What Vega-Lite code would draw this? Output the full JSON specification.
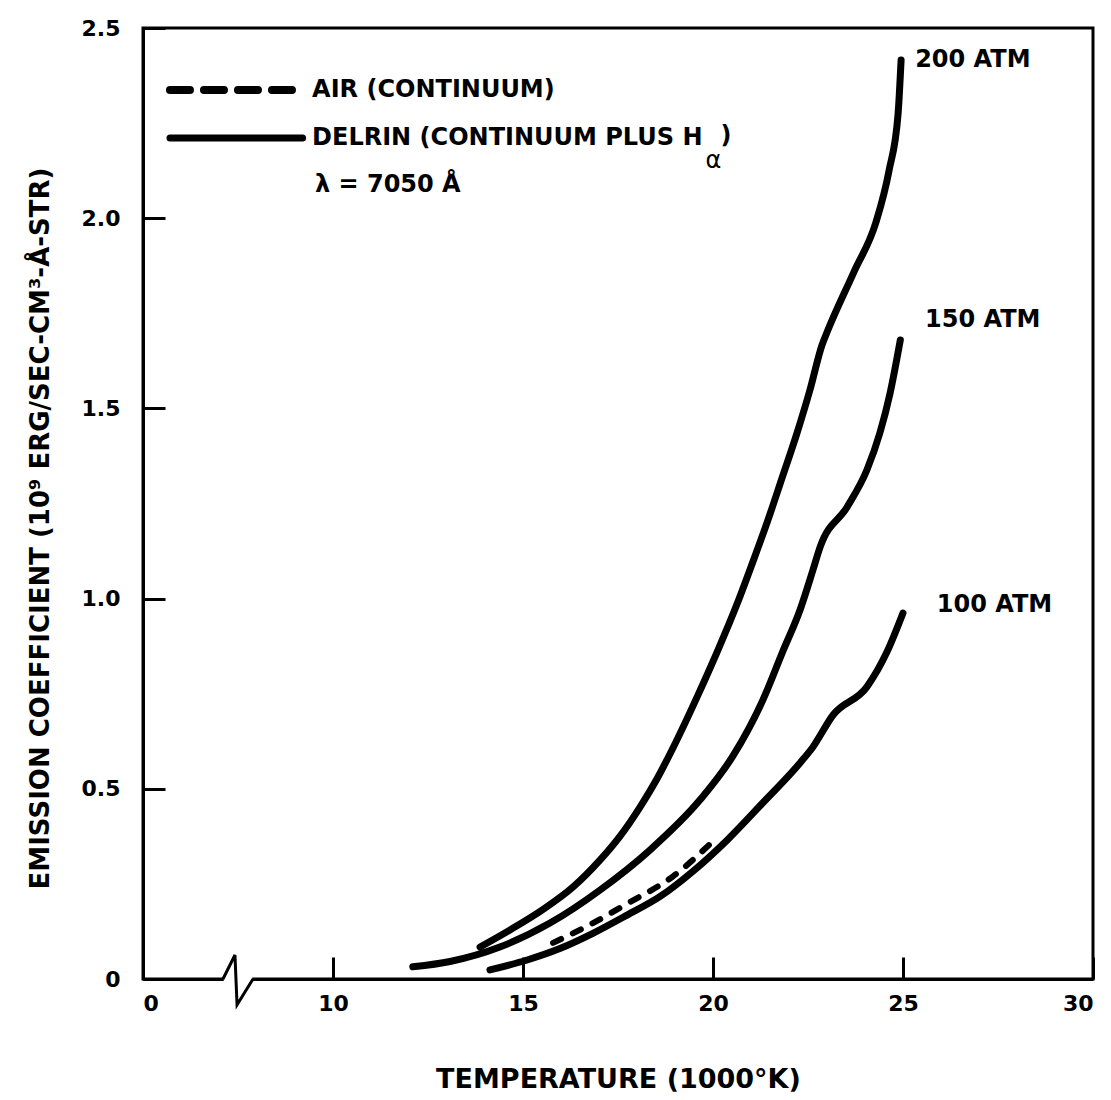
{
  "$schema": "https://vega.github.io/schema/vega-lite/v6.json",
  "width": 950,
  "height": 951,
  "autosize": {"type": "none"},
  "padding": {"left": 143, "top": 28, "right": 18, "bottom": 121},
  "background": "white",
  "config": {
    "view": {"stroke": "black", "strokeWidth": 3},
    "axis": {
      "grid": false,
      "domainColor": "black",
      "domainWidth": 3,
      "tickColor": "black",
      "tickWidth": 3,
      "tickSize": -22,
      "labelFont": "DejaVu Sans",
      "labelFontWeight": "bold",
      "labelFontSize": 22,
      "labelColor": "black",
      "titleFont": "DejaVu Sans",
      "titleFontWeight": "bold",
      "titleFontSize": 27,
      "titleColor": "black"
    }
  },
  "datasets": {
    "curves": [
      {"T": 13.87, "E": 0.084, "series": "200 ATM", "kind": "delrin"},
      {"T": 14.66, "E": 0.129, "series": "200 ATM", "kind": "delrin"},
      {"T": 15.53, "E": 0.183, "series": "200 ATM", "kind": "delrin"},
      {"T": 16.32, "E": 0.242, "series": "200 ATM", "kind": "delrin"},
      {"T": 17.03, "E": 0.313, "series": "200 ATM", "kind": "delrin"},
      {"T": 17.55, "E": 0.375, "series": "200 ATM", "kind": "delrin"},
      {"T": 18.08, "E": 0.452, "series": "200 ATM", "kind": "delrin"},
      {"T": 18.53, "E": 0.527, "series": "200 ATM", "kind": "delrin"},
      {"T": 18.95, "E": 0.608, "series": "200 ATM", "kind": "delrin"},
      {"T": 19.58, "E": 0.741, "series": "200 ATM", "kind": "delrin"},
      {"T": 20.11, "E": 0.86, "series": "200 ATM", "kind": "delrin"},
      {"T": 20.63, "E": 0.985, "series": "200 ATM", "kind": "delrin"},
      {"T": 21.05, "E": 1.097, "series": "200 ATM", "kind": "delrin"},
      {"T": 21.42, "E": 1.199, "series": "200 ATM", "kind": "delrin"},
      {"T": 21.82, "E": 1.318, "series": "200 ATM", "kind": "delrin"},
      {"T": 22.21, "E": 1.435, "series": "200 ATM", "kind": "delrin"},
      {"T": 22.55, "E": 1.548, "series": "200 ATM", "kind": "delrin"},
      {"T": 22.87, "E": 1.667, "series": "200 ATM", "kind": "delrin"},
      {"T": 23.0, "E": 1.7, "series": "200 ATM", "kind": "delrin"},
      {"T": 23.71, "E": 1.859, "series": "200 ATM", "kind": "delrin"},
      {"T": 24.29, "E": 1.99, "series": "200 ATM", "kind": "delrin"},
      {"T": 24.63, "E": 2.124, "series": "200 ATM", "kind": "delrin"},
      {"T": 24.87, "E": 2.274, "series": "200 ATM", "kind": "delrin"},
      {"T": 24.95, "E": 2.416, "series": "200 ATM", "kind": "delrin"},
      {"T": 12.1, "E": 0.032, "series": "150 ATM", "kind": "delrin"},
      {"T": 13.08, "E": 0.046, "series": "150 ATM", "kind": "delrin"},
      {"T": 14.39, "E": 0.084, "series": "150 ATM", "kind": "delrin"},
      {"T": 15.71, "E": 0.147, "series": "150 ATM", "kind": "delrin"},
      {"T": 17.03, "E": 0.234, "series": "150 ATM", "kind": "delrin"},
      {"T": 18.34, "E": 0.339, "series": "150 ATM", "kind": "delrin"},
      {"T": 19.66, "E": 0.471, "series": "150 ATM", "kind": "delrin"},
      {"T": 20.53, "E": 0.587, "series": "150 ATM", "kind": "delrin"},
      {"T": 21.32, "E": 0.735, "series": "150 ATM", "kind": "delrin"},
      {"T": 21.84, "E": 0.862, "series": "150 ATM", "kind": "delrin"},
      {"T": 22.29, "E": 0.97, "series": "150 ATM", "kind": "delrin"},
      {"T": 22.63, "E": 1.075, "series": "150 ATM", "kind": "delrin"},
      {"T": 22.82, "E": 1.136, "series": "150 ATM", "kind": "delrin"},
      {"T": 23.53, "E": 1.241, "series": "150 ATM", "kind": "delrin"},
      {"T": 24.05, "E": 1.338, "series": "150 ATM", "kind": "delrin"},
      {"T": 24.39, "E": 1.435, "series": "150 ATM", "kind": "delrin"},
      {"T": 24.66, "E": 1.54, "series": "150 ATM", "kind": "delrin"},
      {"T": 24.93, "E": 1.68, "series": "150 ATM", "kind": "delrin"},
      {"T": 14.13, "E": 0.024, "series": "100 ATM", "kind": "delrin"},
      {"T": 15.11, "E": 0.05, "series": "100 ATM", "kind": "delrin"},
      {"T": 15.97, "E": 0.08, "series": "100 ATM", "kind": "delrin"},
      {"T": 16.84, "E": 0.12, "series": "100 ATM", "kind": "delrin"},
      {"T": 17.74, "E": 0.168, "series": "100 ATM", "kind": "delrin"},
      {"T": 18.61, "E": 0.217, "series": "100 ATM", "kind": "delrin"},
      {"T": 19.47, "E": 0.283, "series": "100 ATM", "kind": "delrin"},
      {"T": 20.37, "E": 0.365, "series": "100 ATM", "kind": "delrin"},
      {"T": 21.3, "E": 0.462, "series": "100 ATM", "kind": "delrin"},
      {"T": 22.29, "E": 0.568, "series": "100 ATM", "kind": "delrin"},
      {"T": 22.63, "E": 0.61, "series": "100 ATM", "kind": "delrin"},
      {"T": 23.16, "E": 0.694, "series": "100 ATM", "kind": "delrin"},
      {"T": 24.05, "E": 0.768, "series": "100 ATM", "kind": "delrin"},
      {"T": 24.58, "E": 0.86, "series": "100 ATM", "kind": "delrin"},
      {"T": 25.0, "E": 0.962, "series": "100 ATM", "kind": "delrin"},
      {"T": 15.79, "E": 0.095, "series": "AIR", "kind": "air"},
      {"T": 16.84, "E": 0.147, "series": "AIR", "kind": "air"},
      {"T": 17.74, "E": 0.198, "series": "AIR", "kind": "air"},
      {"T": 18.95, "E": 0.27, "series": "AIR", "kind": "air"},
      {"T": 20.11, "E": 0.373, "series": "AIR", "kind": "air"}
    ],
    "legendLines": [
      {"T": 1.42, "E": 2.337, "kind": "air"},
      {"T": 8.26, "E": 2.337, "kind": "air"},
      {"T": 1.42, "E": 2.211, "kind": "delrin"},
      {"T": 8.4, "E": 2.211, "kind": "delrin"}
    ],
    "labels": [
      {"T": 25.32, "E": 2.416, "text": "200 ATM"},
      {"T": 25.58, "E": 1.732, "text": "150 ATM"},
      {"T": 25.89, "E": 0.983, "text": "100 ATM"},
      {"T": 8.9, "E": 2.337, "text": "AIR (CONTINUUM)"},
      {"T": 8.9, "E": 2.211, "text": "DELRIN (CONTINUUM PLUS H"},
      {"T": 20.2, "E": 2.215, "text": ")"},
      {"T": 9.05, "E": 2.087, "text": "λ  =  7050 Å"}
    ],
    "subs": [
      {"T": 19.8, "E": 2.15, "text": "α"}
    ],
    "brk": [
      {"T": 4.21, "E": 0, "i": 1},
      {"T": 4.84, "E": 0.063, "i": 2},
      {"T": 4.95, "E": -0.068, "i": 3},
      {"T": 5.79, "E": 0, "i": 4}
    ],
    "gap": [
      {"T": 4.25, "T2": 5.75, "E": 0}
    ]
  },
  "encoding": {
    "x": {
      "field": "T",
      "type": "quantitative",
      "scale": {"domain": [0, 10, 30], "range": [0, 190, 950], "nice": false, "zero": false},
      "axis": {
        "values": [0, 10, 15, 20, 25, 30],
        "format": "d",
        "labelPadding": 36,
        "title": "TEMPERATURE (1000°K)",
        "titlePadding": 52
      }
    },
    "y": {
      "field": "E",
      "type": "quantitative",
      "scale": {"domain": [0, 2.5], "nice": false},
      "axis": {
        "values": [0, 0.5, 1, 1.5, 2, 2.5],
        "labelExpr": "datum.value == 0 ? '0' : format(datum.value, '.1f')",
        "labelPadding": 45,
        "title": "EMISSION COEFFICIENT (10⁹ ERG/SEC-CM³-Å-STR)",
        "titleFontSize": 26,
        "titlePadding": 28,
        "titleY": 500
      }
    }
  },
  "layer": [
    {
      "data": {"name": "gap"},
      "mark": {"type": "rule", "color": "white", "strokeWidth": 8, "clip": false},
      "encoding": {"x2": {"field": "T2"}}
    },
    {
      "data": {"name": "brk"},
      "mark": {"type": "line", "color": "black", "strokeWidth": 3, "clip": false, "strokeJoin": "miter"},
      "encoding": {"order": {"field": "i"}}
    },
    {
      "data": {"name": "curves"},
      "transform": [{"filter": "datum.kind == 'delrin'"}],
      "mark": {"type": "line", "color": "black", "strokeWidth": 7, "strokeCap": "round", "interpolate": "monotone"},
      "encoding": {"detail": {"field": "series"}}
    },
    {
      "data": {"name": "curves"},
      "transform": [{"filter": "datum.kind == 'air'"}],
      "mark": {"type": "line", "color": "black", "strokeWidth": 6, "strokeCap": "round", "strokeDash": [9, 13], "interpolate": "monotone"},
      "encoding": {"detail": {"field": "series"}}
    },
    {
      "data": {"name": "legendLines"},
      "transform": [{"filter": "datum.kind == 'air'"}],
      "mark": {"type": "line", "color": "black", "strokeWidth": 8, "strokeCap": "round", "strokeDash": [20, 14]},
      "encoding": {"detail": {"field": "kind"}}
    },
    {
      "data": {"name": "legendLines"},
      "transform": [{"filter": "datum.kind == 'delrin'"}],
      "mark": {"type": "line", "color": "black", "strokeWidth": 7, "strokeCap": "round"},
      "encoding": {"detail": {"field": "kind"}}
    },
    {
      "data": {"name": "labels"},
      "mark": {"type": "text", "align": "left", "baseline": "middle", "font": "DejaVu Sans", "fontWeight": "bold", "fontSize": 24, "color": "black"},
      "encoding": {"text": {"field": "text"}}
    },
    {
      "data": {"name": "subs"},
      "mark": {"type": "text", "align": "left", "baseline": "middle", "font": "DejaVu Sans", "fontSize": 24, "color": "black"},
      "encoding": {"text": {"field": "text"}}
    }
  ]
}
